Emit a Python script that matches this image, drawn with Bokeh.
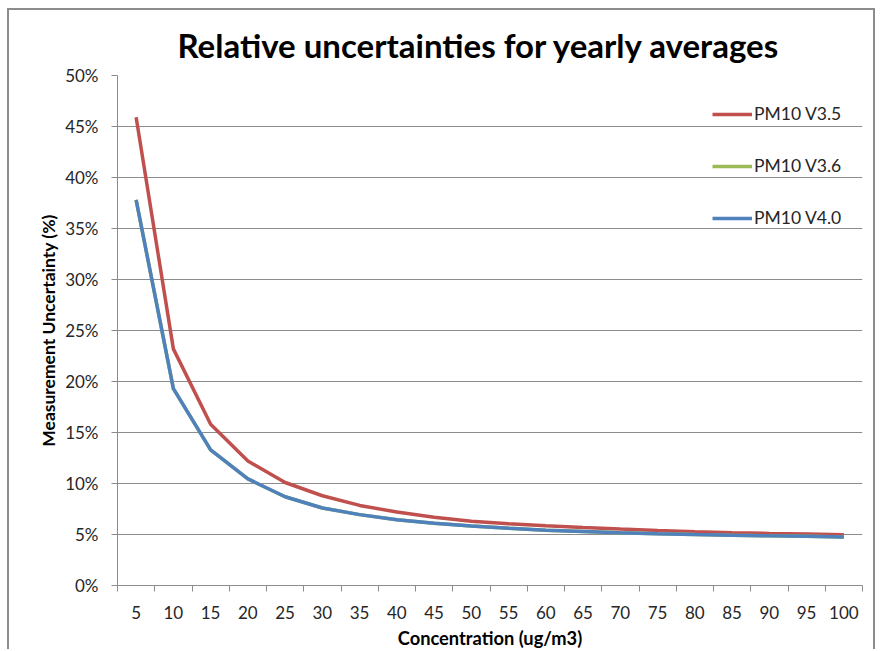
from bokeh.plotting import figure
from bokeh.models import Range1d, FixedTicker, PrintfTickFormatter, Legend, LegendItem
from bokeh.embed import file_html
from bokeh.resources import INLINE

# ---- data ----
concentration = [5, 10, 15, 20, 25, 30, 35, 40, 45, 50, 55, 60, 65, 70, 75, 80, 85, 90, 95, 100]
pm10_v35 = [45.9, 23.2, 15.8, 12.2, 10.1, 8.8, 7.85, 7.2, 6.7, 6.3, 6.05, 5.85, 5.68, 5.53, 5.4, 5.28, 5.18, 5.1, 5.04, 4.98]
pm10_v36 = [37.8, 19.3, 13.3, 10.45, 8.7, 7.6, 6.95, 6.45, 6.1, 5.83, 5.62, 5.42, 5.3, 5.18, 5.08, 5.0, 4.93, 4.87, 4.82, 4.75]
pm10_v40 = [37.8, 19.3, 13.3, 10.45, 8.7, 7.6, 6.95, 6.45, 6.1, 5.83, 5.62, 5.42, 5.3, 5.18, 5.08, 5.0, 4.93, 4.87, 4.82, 4.75]
series_names = ["PM10 V3.5", "PM10 V3.6", "PM10 V4.0"]
series_colors = ["#C0504D", "#9BBB59", "#4F81BD"]
y_ticks = [0, 5, 10, 15, 20, 25, 30, 35, 40, 45, 50]
title_text = "Relative uncertainties for yearly averages"

FONT = "Lato"
TXT = "#262626"
GRID = "#8C8C8C"

p = figure(width=868, height=641, output_backend="svg", toolbar_location=None,
           x_range=Range1d(2.5, 102.5), y_range=Range1d(0, 50),
           min_border_left=108, min_border_right=15, min_border_top=65, min_border_bottom=64)
p.styles = {"margin-left": "7px", "margin-top": "8px",
            "border-left": "2px solid #8C8C8C", "border-top": "2px solid #8C8C8C",
            "border-right": "2px solid #8C8C8C"}

p.title.text = title_text
p.title.align = "left"
p.title.offset = 60
p.title.standoff = 21
p.title.text_font = FONT
p.title.text_font_size = "33px"
p.title.text_font_style = "bold"
p.title.text_color = "#000000"

p.outline_line_color = None
p.xgrid.grid_line_color = None
p.ygrid.grid_line_color = GRID
p.ygrid.grid_line_width = 1
p.ygrid.ticker = FixedTicker(ticks=y_ticks)

# x axis: labels at category centres, tick marks at boundaries (minor ticks)
bounds = [c - 2.5 for c in concentration] + [concentration[-1] + 2.5]
p.xaxis.ticker = FixedTicker(ticks=concentration, minor_ticks=bounds)
p.xaxis.major_tick_line_color = None
p.xaxis.major_tick_out = 0
p.xaxis.major_tick_in = 0
p.xaxis.minor_tick_out = 6
p.xaxis.minor_tick_in = 0
p.xaxis.minor_tick_line_color = GRID
p.xaxis.axis_line_color = GRID
p.xaxis.major_label_standoff = 14
p.xaxis.axis_label = "Concentration (ug/m3)"
p.xaxis.axis_label_standoff = 5

p.yaxis.ticker = FixedTicker(ticks=y_ticks)
p.yaxis.formatter = PrintfTickFormatter(format="%d%%")
p.yaxis.major_tick_out = 6
p.yaxis.major_tick_in = 0
p.yaxis.minor_tick_line_color = None
p.yaxis.major_tick_line_color = GRID
p.yaxis.axis_line_color = GRID
p.yaxis.major_label_standoff = 13
p.yaxis.axis_label = "Measurement Uncertainty (%)"
p.yaxis.axis_label_standoff = 3

for ax in (p.xaxis, p.yaxis):
    ax.major_label_text_font = FONT
    ax.major_label_text_font_size = "17px"
    ax.major_label_text_color = TXT
    ax.axis_label_text_font = FONT
    ax.axis_label_text_font_style = "bold"
    ax.axis_label_text_color = "#000000"
p.yaxis.axis_label_text_font_size = "17.5px"
p.xaxis.axis_label_text_font_size = "18.3px"

items = []
for name, vals, col in zip(series_names, [pm10_v35, pm10_v36, pm10_v40], series_colors):
    r = p.line(concentration, vals, line_color=col, line_width=3.5)
    items.append(LegendItem(label=name, renderers=[r]))

legend = Legend(items=items, location=(595, 357), orientation="vertical",
                background_fill_alpha=0, border_line_color=None,
                glyph_width=40, glyph_height=20, label_height=20, spacing=31,
                label_standoff=2, padding=10, margin=0,
                label_text_font=FONT, label_text_font_size="17.5px", label_text_color=TXT)
p.add_layout(legend, "center")

open("out.html", "w").write(file_html(p, INLINE))
